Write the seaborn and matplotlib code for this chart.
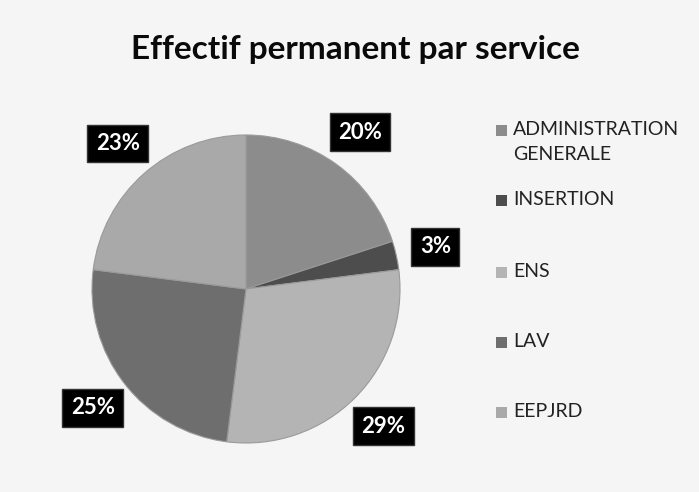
"""
Effectif permanent par service - camembert (scan en niveaux de gris)
"""

import matplotlib
matplotlib.use("Agg")
import matplotlib.pyplot as plt
from matplotlib.patches import Rectangle
import seaborn as sns

# ── Données
services = ["ADMINISTRATION\nGENERALE", "INSERTION", "ENS", "LAV", "EEPJRD"]
parts    = [20, 3, 29, 25, 23]
gris     = ["#8c8c8c", "#4d4d4d", "#b4b4b4", "#6e6e6e", "#a9a9a9"]

sns.set_theme(style="white")
plt.rcParams["font.family"] = ["Lato", "DejaVu Sans"]

fig = plt.figure(figsize=(6.99, 4.92), dpi=100, facecolor="#f5f5f5")

# axe du camembert : centre (246, 289) px, rayon 154 px
W, H = 699, 492
cx, cy, r = 246, 289, 154
ax = fig.add_axes([(cx - r) / W, (H - cy - r) / H, 2 * r / W, 2 * r / H])
ax.set_facecolor("none")

wedges, _, autotexts = ax.pie(
    parts, colors=gris, startangle=90, counterclock=False,
    autopct=lambda p: f"{p:.0f}%", pctdistance=1.26,
    wedgeprops={"linewidth": 0.8, "edgecolor": "#9a9a9a"},
)
for t in autotexts:
    t.set_color("white")
    t.set_fontsize(16)
    t.set_fontweight("bold")
    t.set_bbox({"boxstyle": "square,pad=0.38", "facecolor": "black", "edgecolor": "#333333"})
    t.set_clip_on(False)
ax.set_xlim(-1, 1); ax.set_ylim(-1, 1)
ax.set_aspect("equal")
ax.axis("off")

fig.text(355 / W, 1 - 50 / H, "Effectif permanent par service",
         ha="center", va="center", fontsize=24, fontweight="bold", color="#0a0a0a")

# ── Légende (comme Excel : marqueur aligné sur la première ligne)
leg_y = [131, 201, 273, 343, 413]
for lab, col, y in zip(services, gris, leg_y):
    fig.patches.append(Rectangle((496 / W, 1 - (y + 5) / H), 11 / W, 11 / H,
                                 transform=fig.transFigure, facecolor=col,
                                 edgecolor="none"))
    fig.text(513 / W, 1 - (y - 10) / H, lab, ha="left", va="top",
             fontsize=14, color="#222222", linespacing=1.6)

fig.savefig("out.png", dpi=100, facecolor=fig.get_facecolor())
plt.close()
